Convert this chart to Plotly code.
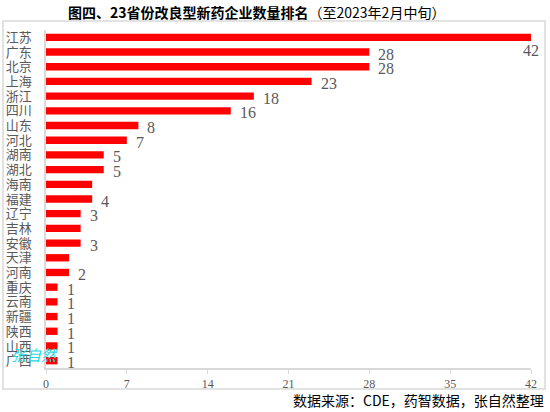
import plotly.graph_objects as go

# 省份与企业数量（自上而下）
provinces = ["江苏", "广东", "北京", "上海", "浙江", "四川", "山东", "河北", "湖南", "湖北",
             "海南", "福建", "辽宁", "吉林", "安徽", "天津", "河南", "重庆", "云南", "新疆",
             "陕西", "山西", "广西"]
counts = [42, 28, 28, 23, 18, 16, 8, 7, 5, 5,
          4, 4, 3, 3, 3, 2, 2, 1, 1, 1,
          1, 1, 1]
# 原图中部分柱子没有数据标签
shown_labels = ["42", "28", "28", "23", "18", "16", "8", "7", "5", "5",
                "", "4", "3", "", "3", "", "2", "1", "1", "1",
                "1", "1", "1"]
x_ticks = [0, 7, 14, 21, 28, 35, 42]

label_gray = "#595959"

fig = go.Figure()
fig.add_trace(go.Bar(
    y=provinces,
    x=counts,
    orientation="h",
    marker=dict(color="#ff0000", line=dict(width=0)),
    hoverinfo="x+y",
))

# data labels
annotations = []
max_val = max(counts)
for p, v, t in zip(provinces, counts, shown_labels):
    if not t:
        continue
    if v == max_val:
        # no room on the right, so the label drops under the bar end
        annotations.append(dict(x=v, y=p, text=t, showarrow=False,
                                xanchor="center", yanchor="middle", yshift=-13,
                                font=dict(family="Liberation Serif", size=16, color=label_gray)))
    else:
        annotations.append(dict(x=v, y=p, text=t, showarrow=False,
                                xanchor="left", yanchor="middle", xshift=7, yshift=-2,
                                font=dict(family="Liberation Serif", size=16, color=label_gray)))

# title, source, watermark
annotations.append(dict(
    xref="paper", yref="paper", x=0.435, y=1.053, xanchor="center", yanchor="middle",
    showarrow=False,
    text="<b>图四、23省份改良型新药企业数量排名</b>（至2023年2月中旬）",
    font=dict(family="Noto Sans CJK SC", size=14, color="#000000")))
annotations.append(dict(
    xref="paper", yref="paper", x=1.03, y=-0.095, xanchor="right", yanchor="middle",
    showarrow=False,
    text="数据来源：CDE，药智数据，张自然整理",
    font=dict(family="Noto Sans CJK SC", size=14, color="#000000")))
annotations.append(dict(
    xref="paper", yref="paper", x=-0.076, y=0.04, xanchor="left", yanchor="middle",
    showarrow=False, text="<i>张自然</i>",
    font=dict(family="Noto Sans CJK SC", size=15, color="#1ed8e0")))

fig.update_layout(
    width=550, height=412,
    margin=dict(l=46, r=19, t=30, b=44, autoexpand=False),
    paper_bgcolor="white",
    plot_bgcolor="white",
    bargap=0.5,
    showlegend=False,
    annotations=annotations,
    shapes=[dict(type="rect", xref="paper", yref="paper",
                 x0=-0.0887, x1=1.0289, y0=-0.062, y1=1.0266,
                 line=dict(color="#d9d9d9", width=1.5), layer="below")],
    xaxis=dict(
        range=[0, 42],
        tickvals=x_ticks,
        showgrid=False,
        zeroline=False,
        showline=True,
        linecolor="#d9d9d9",
        linewidth=1.5,
        ticks="outside",
        ticklen=4,
        tickcolor="#d9d9d9",
        tickfont=dict(family="Liberation Serif", size=12, color=label_gray),
    ),
    yaxis=dict(
        range=[len(provinces) - 0.5, -0.5],
        tickmode="array",
        tickvals=provinces,
        showgrid=False,
        showline=True,
        linecolor="#d9d9d9",
        linewidth=1.5,
        ticks="",
        ticklabelstandoff=10,
        tickfont=dict(family="Noto Sans CJK SC", size=13, color=label_gray),
    ),
)

fig.write_html("out.html", config={"displayModeBar": False},
               post_script="document.body.style.margin='0';")
